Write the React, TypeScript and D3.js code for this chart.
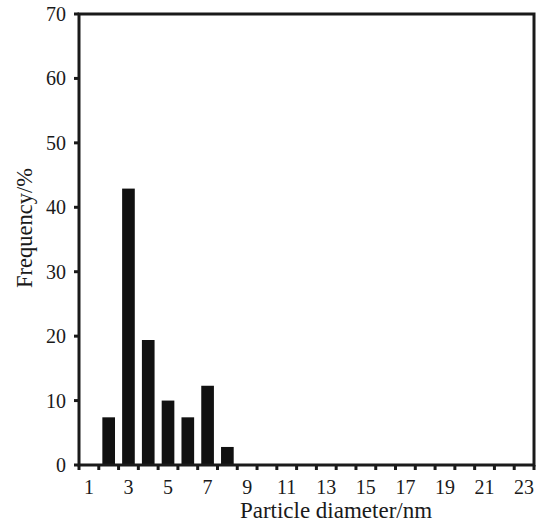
import * as d3 from "d3";
import { useEffect, useRef } from "react";

const diameters = [2, 3, 4, 5, 6, 7, 8];
const frequency = [7.4, 42.9, 19.4, 10.0, 7.4, 12.3, 2.8];
const yTicks = [0, 10, 20, 30, 40, 50, 60, 70];
const xLabels = [1, 3, 5, 7, 9, 11, 13, 15, 17, 19, 21, 23];
const xEdges = d3.range(0.5, 24, 1);

const W = 545;
const H = 531;
const margin = { top: 14, right: 11, bottom: 66, left: 79 };
const ink = "#1a1a1a";
const font = "'Liberation Serif', 'Times New Roman', serif";

const App = () => {
  const ref = useRef<SVGSVGElement>(null);

  useEffect(() => {
    const svg = d3.select(ref.current);
    svg.selectAll("*").remove();

    const x = d3.scaleLinear().domain([0.5, 23.5]).range([margin.left, W - margin.right]);
    const y = d3.scaleLinear().domain([0, 70]).range([H - margin.bottom, margin.top]);
    const unit = x(1) - x(0);
    const barW = unit * 0.64;

    // bars
    svg.append("g")
      .selectAll("rect")
      .data(diameters)
      .join("rect")
      .attr("x", (d) => x(d) - barW / 2)
      .attr("y", (d, i) => y(frequency[i]))
      .attr("width", barW)
      .attr("height", (d, i) => y(0) - y(frequency[i]))
      .attr("fill", "#111");

    // y ticks (outward)
    svg.append("g")
      .selectAll("line")
      .data(yTicks)
      .join("line")
      .attr("x1", margin.left - 5)
      .attr("x2", margin.left)
      .attr("y1", (d) => y(d))
      .attr("y2", (d) => y(d))
      .attr("stroke", ink)
      .attr("stroke-width", 3);

    svg.append("g")
      .selectAll("text")
      .data(yTicks)
      .join("text")
      .attr("x", margin.left - 13)
      .attr("y", (d) => y(d))
      .attr("dy", "0.35em")
      .attr("text-anchor", "end")
      .attr("font-family", font)
      .attr("font-size", 20)
      .attr("fill", ink)
      .text((d) => d);

    // x ticks at bin edges
    svg.append("g")
      .selectAll("line")
      .data(xEdges)
      .join("line")
      .attr("x1", (d) => x(d))
      .attr("x2", (d) => x(d))
      .attr("y1", y(0))
      .attr("y2", y(0) + 5)
      .attr("stroke", ink)
      .attr("stroke-width", 3);

    svg.append("g")
      .selectAll("text")
      .data(xLabels)
      .join("text")
      .attr("x", (d) => x(d))
      .attr("y", y(0) + 29)
      .attr("text-anchor", "middle")
      .attr("font-family", font)
      .attr("font-size", 20)
      .attr("fill", ink)
      .text((d) => d);

    // frame
    svg.append("rect")
      .attr("x", margin.left)
      .attr("y", margin.top)
      .attr("width", W - margin.left - margin.right)
      .attr("height", H - margin.top - margin.bottom)
      .attr("fill", "none")
      .attr("stroke", ink)
      .attr("stroke-width", 3);

    svg.append("text")
      .attr("x", 336)
      .attr("y", 518)
      .attr("text-anchor", "middle")
      .attr("font-family", font)
      .attr("font-size", 23)
      .attr("fill", ink)
      .text("Particle diameter/nm");

    svg.append("text")
      .attr("transform", "translate(32, 228) rotate(-90)")
      .attr("text-anchor", "middle")
      .attr("font-family", font)
      .attr("font-size", 22.5)
      .attr("fill", ink)
      .text("Frequency/%");
  }, []);

  return (
    <svg
      ref={ref}
      width={W}
      height={H}
      style={{ position: "absolute", left: 0, top: 0, background: "#fff" }}
    ></svg>
  );
};

export default App;
